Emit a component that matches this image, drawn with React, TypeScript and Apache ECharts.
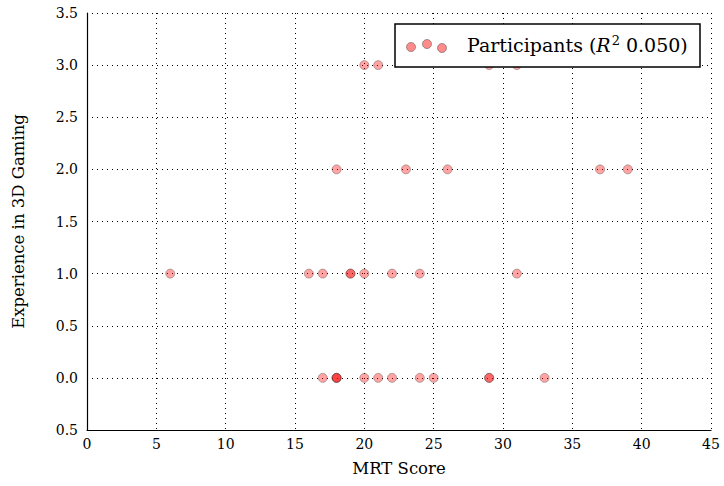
import React, { useEffect, useRef } from "react";
import * as echarts from "echarts";

// MRT score (x) vs experience in 3D gaming (y); duplicates overlap
const mrtScores = [
  17, 18, 18, 18, 20, 21, 22, 24, 25, 29, 29, 33,
  6, 16, 17, 19, 19, 20, 22, 24, 31,
  18, 23, 26, 37, 39,
  20, 21, 29, 31,
];
const experience = [
  0, 0, 0, 0, 0, 0, 0, 0, 0, 0, 0, 0,
  1, 1, 1, 1, 1, 1, 1, 1, 1,
  2, 2, 2, 2, 2,
  3, 3, 3, 3,
];
const yTickLabels = ["0.5", "0.0", "0.5", "1.0", "1.5", "2.0", "2.5", "3.0", "3.5"];
const xTickLabels = ["0", "5", "10", "15", "20", "25", "30", "35", "40", "45"];
const seriesName = "Participants";
const rSquared = "0.050";

const FONT = "DejaVu Serif";

export default function App() {
  const ref = useRef<HTMLDivElement>(null);
  useEffect(() => {
    if (!ref.current) return;
    const chart = echarts.init(ref.current, null, { renderer: "svg" });
    const points = mrtScores.map((x, i) => [x, experience[i]]);
    const markerStyle = {
      fill: "rgba(255,0,0,0.45)",
      stroke: "rgba(60,60,60,0.45)",
      lineWidth: 1,
    };
    const gridLine = { show: true, lineStyle: { color: "#000", type: [1, 4] as any, width: 1 } };
    chart.setOption({
      animation: false,
      grid: { left: 87, right: 13, top: 13, bottom: 56, containLabel: false },
      xAxis: {
        type: "value",
        min: 0,
        max: 45,
        interval: 5,
        name: "MRT Score",
        nameLocation: "middle",
        nameGap: 30,
        nameTextStyle: { fontFamily: FONT, fontSize: 16.5, color: "#000" },
        axisLine: { show: true, onZero: false, lineStyle: { color: "#000", width: 1.2 } },
        axisTick: { show: false },
        axisLabel: {
          fontFamily: FONT,
          fontSize: 14,
          color: "#000",
          margin: 7,
          formatter: (v: number) => xTickLabels[Math.round(v / 5)] ?? String(v),
        },
        splitLine: gridLine,
      },
      yAxis: {
        type: "value",
        min: -0.5,
        max: 3.5,
        interval: 0.5,
        name: "Experience in 3D Gaming",
        nameLocation: "middle",
        nameGap: 60,
        nameRotate: 90,
        nameTextStyle: { fontFamily: FONT, fontSize: 16.5, color: "#000" },
        axisLine: { show: true, onZero: false, lineStyle: { color: "#000", width: 1.2 } },
        axisTick: { show: false },
        axisLabel: {
          fontFamily: FONT,
          fontSize: 14,
          color: "#000",
          margin: 9,
          formatter: (v: number) => yTickLabels[Math.round((v + 0.5) / 0.5)] ?? String(v),
        },
        splitLine: gridLine,
      },
      series: [
        {
          type: "scatter",
          name: seriesName,
          data: points,
          symbol: "circle",
          symbolSize: 9,
          itemStyle: {
            color: "rgba(255,0,0,0.45)",
            borderColor: "rgba(60,60,60,0.45)",
            borderWidth: 1,
          },
          z: 3,
        },
      ],
      graphic: [
        {
          type: "rect",
          z: 100,
          shape: { x: 395, y: 24, width: 305, height: 43 },
          style: { fill: "#fff", stroke: "#000", lineWidth: 1.5 },
        },
        { type: "circle", z: 101, shape: { cx: 411, cy: 47, r: 4.5 }, style: markerStyle },
        { type: "circle", z: 101, shape: { cx: 427, cy: 44, r: 4.5 }, style: markerStyle },
        { type: "circle", z: 101, shape: { cx: 442, cy: 48, r: 4.5 }, style: markerStyle },
        {
          type: "text",
          z: 101,
          x: 467,
          y: 45,
          style: {
            text: `{a|${seriesName} (}{i|R}{s|2}{a| ${rSquared})}`,
            verticalAlign: "middle",
            rich: {
              a: { fontFamily: FONT, fontSize: 19, fill: "#000" },
              i: { fontFamily: FONT, fontSize: 19, fontStyle: "italic", fill: "#000" },
              s: { fontFamily: FONT, fontSize: 13, fill: "#000", padding: [0, 0, 10, 1] },
            },
          },
        },
      ],
    });
    return () => chart.dispose();
  }, []);
  return (
    <div
      ref={ref}
      style={{ position: "fixed", left: 0, top: 0, width: 724, height: 486, background: "#fff" }}
    />
  );
}
